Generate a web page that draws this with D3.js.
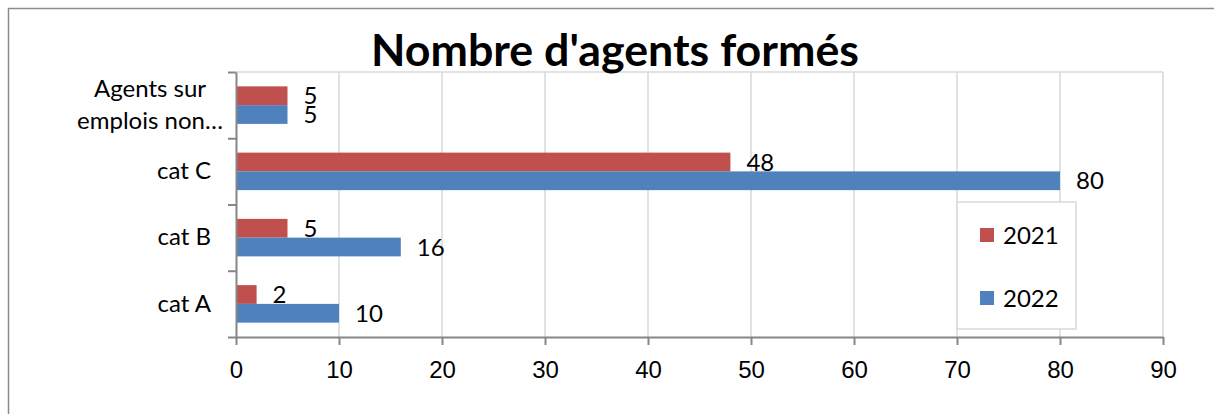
<!DOCTYPE html>
<html>
<head>
<meta charset="utf-8">
<script src="https://cdn.jsdelivr.net/npm/d3@7"></script>
<style>
    html, body { margin: 0; padding: 0; background: #fff; }
    svg { display: block; font-family: Lato, 'Open Sans', sans-serif; }
    .grid line { stroke: #d9d9d9; stroke-width: 1.5; }
    .axis path, .axis line { stroke: #868686; stroke-width: 2; }
    .axis text { fill: #000; font-size: 24px; }
    .label { font-size: 24px; fill: #000; }
</style>
</head>
<body>
<svg id="chart" width="1214" height="414"></svg>
<script>
'use strict';

// categories, top to bottom as shown
const categories = ['Agents sur\nemplois non…', 'cat C', 'cat B', 'cat A'];
const series = ['2021', '2022'];
const values2021 = [5, 48, 5, 2];
const values2022 = [5, 80, 16, 10];
const xTicks = [0, 10, 20, 30, 40, 50, 60, 70, 80, 90];
const colors = ['#c0504d', '#4f81bd'];
const title = "Nombre d'agents formés";

const plot = { left: 236, right: 1163, top: 72, bottom: 337 };

const svg = d3.select('#chart');

// outer frame (only the top and left edges are inside the picture)
svg.append('rect')
    .attr('x', 8.5).attr('y', 8.5)
    .attr('width', 1400).attr('height', 600)
    .attr('fill', 'none')
    .attr('stroke', '#8c8c8c')
    .attr('stroke-width', 1.5);

const x = d3.scaleLinear()
    .domain([0, 90])
    .range([plot.left, plot.right]);

const y = d3.scaleBand()
    .domain(categories)
    .range([plot.top, plot.bottom])
    .paddingInner(0.434)
    .paddingOuter(0.217);

const ySub = d3.scaleBand()
    .domain(series)
    .range([0, y.bandwidth()]);

// gridlines + plot top border
const grid = svg.append('g').attr('class', 'grid');
grid.selectAll('line.v')
    .data(xTicks.slice(1))
    .join('line')
    .attr('class', 'v')
    .attr('x1', d => x(d)).attr('x2', d => x(d))
    .attr('y1', plot.top).attr('y2', plot.bottom);
grid.append('line')
    .attr('x1', plot.left).attr('x2', plot.right)
    .attr('y1', plot.top).attr('y2', plot.top);

// bars
const rows = categories.map((c, i) => ({ cat: c, values: [values2021[i], values2022[i]] }));

const groups = svg.append('g')
    .selectAll('g')
    .data(rows)
    .join('g')
    .attr('transform', d => `translate(0,${y(d.cat)})`);

groups.selectAll('rect')
    .data(d => d.values.map((v, i) => ({ key: series[i], value: v, i })))
    .join('rect')
    .attr('x', x(0))
    .attr('y', d => ySub(d.key))
    .attr('width', d => x(d.value) - x(0))
    .attr('height', ySub.bandwidth())
    .attr('fill', d => colors[d.i]);

groups.selectAll('text')
    .data(d => d.values.map((v, i) => ({ key: series[i], value: v, i })))
    .join('text')
    .attr('class', 'label')
    .attr('x', d => x(d.value) + 16)
    .attr('y', d => ySub(d.key) + ySub.bandwidth() / 2)
    .attr('dy', '0.36em')
    .text(d => d.value);

// x axis
const xAxis = svg.append('g')
    .attr('class', 'axis')
    .attr('transform', `translate(0,${plot.bottom})`)
    .call(d3.axisBottom(x).tickValues(xTicks).tickSize(8).tickSizeOuter(0).tickPadding(16));
xAxis.selectAll('text').attr('dy', '0.71em');

// y axis: ticks sit on the band boundaries
const yEdge = d3.scaleLinear()
    .domain([0, categories.length])
    .range([plot.top, plot.bottom]);
svg.append('g')
    .attr('class', 'axis')
    .attr('transform', `translate(${plot.left},0)`)
    .call(d3.axisLeft(yEdge).tickValues(d3.range(categories.length + 1)).tickFormat('').tickSize(8).tickSizeOuter(0));

// category labels
categories.forEach(c => {
    const lines = c.split('\n');
    const cy = y(c) + y.bandwidth() / 2;
    const t = svg.append('text')
        .attr('class', 'label')
        .attr('text-anchor', lines.length > 1 ? 'middle' : 'end');
    const lx = lines.length > 1 ? plot.left - 86 : plot.left - 25;
    lines.forEach((l, k) => {
        t.append('tspan')
            .attr('x', lx)
            .attr('y', cy - 1 + (k - (lines.length - 1) / 2) * 32)
            .attr('dy', '0.36em')
            .text(l);
    });
});

// legend
const legend = svg.append('g').attr('transform', 'translate(957,202)');
legend.append('rect')
    .attr('width', 119).attr('height', 127)
    .attr('fill', '#fff')
    .attr('stroke', '#d9d9d9')
    .attr('stroke-width', 1.5);
series.forEach((s, i) => {
    const row = legend.append('g').attr('transform', `translate(23,${33 + i * 63})`);
    row.append('rect')
        .attr('y', -7).attr('width', 14).attr('height', 14)
        .attr('fill', colors[i]);
    row.append('text')
        .attr('class', 'label')
        .attr('x', 23)
        .attr('dy', '0.36em')
        .text(s);
});

// title, sized to the reference width
const titleText = svg.append('text')
    .attr('x', 615).attr('y', 66)
    .attr('text-anchor', 'middle')
    .attr('font-weight', 'bold')
    .attr('font-size', 42)
    .text(title);
const w = titleText.node().getComputedTextLength();
titleText.attr('font-size', 42 * 488 / w);
</script>
</body>
</html>
